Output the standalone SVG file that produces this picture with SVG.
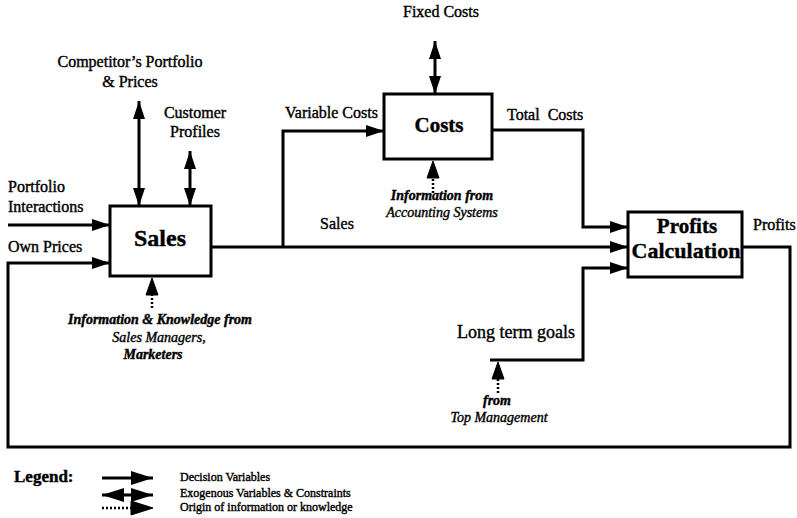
<svg xmlns="http://www.w3.org/2000/svg" width="797" height="518" viewBox="0 0 797 518">
  <defs>
    <style>
      .box { fill: #fff; stroke: #000; stroke-width: 3; }
      .wire { fill: none; stroke: #000; stroke-width: 3; }
      .dots { fill: none; stroke: #000; stroke-width: 2.5; stroke-dasharray: 2 2; }
      .tri { fill: #000; stroke: #000; stroke-width: 1; }
      text { font-family: "Liberation Serif", "Times New Roman", serif; fill: #000; stroke: #000; stroke-width: 0.4; }
      .lbl { font-size: 16px; }
      .big { font-size: 18px; }
      .title { font-weight: bold; }
      .src { font-size: 14px; font-style: italic; }
      .srcb { font-size: 14px; font-style: italic; font-weight: bold; }
      .leg { font-size: 12px; }
      .mid { text-anchor: middle; }
    </style>
    <marker id="arrow" markerUnits="userSpaceOnUse" markerWidth="18" markerHeight="12" refX="18" refY="6" orient="auto-start-reverse">
      <path d="M0,0 L18,6 L0,12 Z" fill="#000"/>
    </marker>
    <marker id="bigarrow" markerUnits="userSpaceOnUse" markerWidth="22" markerHeight="14" refX="22" refY="7" orient="auto-start-reverse">
      <path d="M0,0 L22,7 L0,14 Z" fill="#000"/>
    </marker>
  </defs>
  <rect width="797" height="518" fill="#fff"/>

  <!-- Sales -->
  <g id="sales">
    <rect class="box" x="110" y="206" width="101" height="70"/>
    <text class="title mid" x="160" y="246" font-size="24">Sales</text>
  </g>

  <!-- Costs -->
  <g id="costs">
    <rect class="box" x="384" y="94" width="108" height="65"/>
    <text class="title mid" x="439" y="132" font-size="21">Costs</text>
  </g>

  <!-- Profits Calculation -->
  <g id="profits">
    <rect class="box" x="628" y="212" width="114" height="65"/>
    <text class="title mid" x="687" y="233" font-size="21">Profits</text>
    <text class="title mid" x="686" y="258" font-size="22">Calculation</text>
  </g>

  <!-- labels -->
  <g id="labels">
    <text class="lbl mid" x="130" y="67">Competitor’s Portfolio</text>
    <text class="lbl mid" x="130" y="87">&amp; Prices</text>
    <text class="lbl mid" x="195" y="118">Customer</text>
    <text class="lbl mid" x="195" y="137">Profiles</text>
    <text class="lbl" x="8" y="192">Portfolio</text>
    <text class="lbl" x="8" y="212">Interactions</text>
    <text class="lbl" x="8" y="252">Own Prices</text>
    <text class="lbl" x="285" y="118">Variable Costs</text>
    <text class="lbl mid" x="337" y="229">Sales</text>
    <text class="lbl mid" x="441" y="17">Fixed Costs</text>
    <text class="lbl" x="507" y="120" xml:space="preserve">Total  Costs</text>
    <text class="lbl" x="753" y="230">Profits</text>
    <text class="big" x="457" y="338">Long term goals</text>
    <text class="srcb mid" x="497" y="405">from</text>
    <text class="src mid" x="499" y="422">Top Management</text>
    <text class="srcb mid" x="442" y="200">Information from</text>
    <text class="src mid" x="442" y="217">Accounting Systems</text>
    <text class="srcb mid" x="160" y="324">Information &amp; Knowledge from</text>
    <text class="src mid" x="159" y="342">Sales Managers,</text>
    <text class="srcb mid" x="153" y="359">Marketers</text>
  </g>

  <!-- legend -->
  <g id="legend">
    <text class="title" x="14" y="482" font-size="17">Legend:</text>
    <line class="wire" x1="102" y1="478" x2="153" y2="478" marker-end="url(#bigarrow)"/>
    <line class="wire" x1="102" y1="495" x2="153" y2="495" marker-start="url(#bigarrow)" marker-end="url(#bigarrow)"/>
    <path class="dots" d="M102,508 H133"/>
    <polygon class="tri" points="131,501 153,508 131,515"/>
    <text class="leg" x="180" y="481">Decision Variables</text>
    <text class="leg" x="180" y="497">Exogenous Variables &amp; Constraints</text>
    <text class="leg" x="180" y="511">Origin of information or knowledge</text>
  </g>

  <!-- connectors, drawn last so the heads sit on top -->
  <g id="connectors">
    <line class="wire" x1="139" y1="101" x2="139" y2="206" marker-start="url(#arrow)" marker-end="url(#arrow)"/>
    <line class="wire" x1="190" y1="151" x2="190" y2="206" marker-start="url(#arrow)" marker-end="url(#arrow)"/>
    <line class="wire" x1="435" y1="41" x2="435" y2="94" marker-start="url(#arrow)" marker-end="url(#arrow)"/>
    <line class="wire" x1="8" y1="225" x2="110" y2="225" marker-end="url(#arrow)"/>
    <path class="wire" d="M742,247 H790 V447 H8 V263 H110" marker-end="url(#arrow)"/>
    <path class="wire" d="M211,247 H628" marker-end="url(#arrow)"/>
    <path class="wire" d="M283,247 V131 H384" marker-end="url(#arrow)"/>
    <path class="wire" d="M492,130 H583 V227 H628" marker-end="url(#arrow)"/>
    <path class="wire" d="M490,360 H583 V268 H628" marker-end="url(#arrow)"/>
    <!-- dotted origin arrows with solid heads -->
    <path class="dots" d="M498,393 V377"/>
    <polygon class="tri" points="492,379 498,362 504,379"/>
    <path class="dots" d="M433,193 V176"/>
    <polygon class="tri" points="427,178 433,161 439,178"/>
    <path class="dots" d="M152,308 V293"/>
    <polygon class="tri" points="146,295 152,278 158,295"/>
  </g>
</svg>
